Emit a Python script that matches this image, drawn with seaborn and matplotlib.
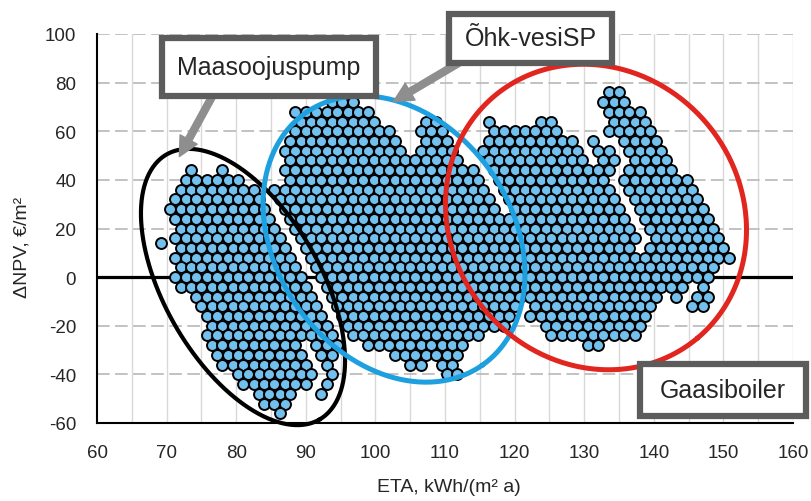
import numpy as np
import pandas as pd
import matplotlib
matplotlib.use("Agg")
import matplotlib.pyplot as plt
from matplotlib.patches import Rectangle, FancyArrowPatch
import seaborn as sns

sns.set_style("white")
plt.rcParams["font.family"] = ["Liberation Sans", "DejaVu Sans"]
plt.rcParams["axes.unicode_minus"] = False

# ---------------- data ----------------
x_ticks = [60, 70, 80, 90, 100, 110, 120, 130, 140, 150, 160]
y_ticks = [-60, -40, -20, 0, 20, 40, 60, 80, 100]
group_names = ["Maasoojuspump", "Õhk-vesiSP", "Gaasiboiler"]

# rows: (ΔNPV, [ETA values])
maasoojuspump_rows = [
    (44, [73.5, 78]),
    (40, [72.75, 74.25, 75.75, 77.25, 78.75, 80.25]),
    (36, [72, 73.5, 75, 76.5, 78, 79.5, 81, 82.5]),
    (32, [71.25, 72.75, 74.25, 75.75, 77.25, 78.75, 80.25, 81.75, 83.25]),
    (28, [70.5, 72, 73.5, 75, 76.5, 78, 79.5, 81, 82.5, 84]),
    (24, [71.25, 72.75, 74.25, 75.75, 77.25, 78.75, 80.25, 81.75, 83.25, 84.75]),
    (20, [72, 73.5, 75, 76.5, 78, 79.5, 81, 82.5, 84, 85.5]),
    (16, [71.25, 72.75, 74.25, 75.75, 77.25, 78.75, 80.25, 81.75, 83.25, 84.75, 86.25]),
    (14, [69.25]),
    (12, [72, 73.5, 75, 76.5, 78, 79.5, 81, 82.5, 84, 85.5, 87]),
    (8, [71.25, 72.75, 74.25, 75.75, 77.25, 78.75, 80.25, 81.75, 83.25, 84.75, 86.25, 87.75]),
    (4, [72, 73.5, 75, 76.5, 78, 79.5, 81, 82.5, 84, 85.5, 87, 88.5]),
    (0, [71.25, 72.75, 74.25, 75.75, 77.25, 78.75, 80.25, 81.75, 83.25, 84.75, 86.25, 87.75, 89.25]),
    (-4, [72, 73.5, 75, 76.5, 78, 79.5, 81, 82.5, 84, 85.5, 87, 88.5, 90]),
    (-8, [74.25, 75.75, 77.25, 78.75, 80.25, 81.75, 83.25, 84.75, 86.25, 87.75, 89.25, 90.75]),
    (-12, [75, 76.5, 78, 79.5, 81, 82.5, 84, 85.5, 87, 88.5, 90, 91.5]),
    (-16, [75.75, 77.25, 78.75, 80.25, 81.75, 83.25, 84.75, 86.25, 87.75, 89.25, 90.75, 92.25]),
    (-20, [76.5, 78, 79.5, 81, 82.5, 84, 85.5, 87, 88.5, 90, 91.5, 93]),
    (-24, [75.75, 77.25, 78.75, 80.25, 81.75, 83.25, 84.75, 86.25, 87.75, 89.25, 90.75, 92.25, 93.75]),
    (-28, [76.5, 78, 79.5, 81, 82.5, 84, 85.5, 87, 88.5, 91.5, 93, 94.5]),
    (-32, [77.25, 78.75, 80.25, 81.75, 83.25, 84.75, 86.25, 87.75, 89.25, 92.25, 93.75]),
    (-36, [78, 79.5, 81, 82.5, 84, 85.5, 87, 88.5, 90, 93]),
    (-40, [80.25, 81.75, 83.25, 84.75, 86.25, 87.75, 89.25, 90.75, 93.75]),
    (-44, [81, 82.5, 84, 85.5, 87, 88.5, 90, 93]),
    (-48, [83.25, 84.75, 86.25, 87.75, 92.25]),
    (-52, [84, 85.5, 87]),
    (-56, [86.25]),
]

ohk_vesi_rows = [
    (72, [93.75, 95.25, 96.75]),
    (68, [88.5, 90, 91.5, 93, 94.5, 96, 97.5, 99]),
    (64, [89.25, 90.75, 92.25, 93.75, 95.25, 96.75, 98.25, 99.75, 107.25, 108.75]),
    (60, [88.5, 90, 91.5, 93, 94.5, 96, 97.5, 99, 100.5, 102, 106.5, 108, 109.5]),
    (56, [87.75, 89.25, 90.75, 92.25, 93.75, 95.25, 96.75, 98.25, 99.75, 101.25, 102.75,
          107.25, 108.75, 110.25]),
    (52, [87, 88.5, 90, 91.5, 93, 94.5, 96, 97.5, 99, 100.5, 102, 103.5, 106.5, 108, 109.5, 111]),
    (48, [87.75, 89.25, 90.75, 92.25, 93.75, 95.25, 96.75, 98.25, 99.75, 101.25, 102.75, 104.25,
          105.75, 107.25, 108.75, 110.25, 111.75]),
    (44, [87, 88.5, 90, 91.5, 93, 94.5, 96, 97.5, 99, 100.5, 102, 103.5, 105, 106.5, 108, 109.5,
          111, 112.5, 114]),
    (40, [87.75, 89.25, 90.75, 92.25, 93.75, 95.25, 96.75, 98.25, 99.75, 101.25, 102.75, 104.25,
          105.75, 107.25, 108.75, 110.25, 111.75, 113.25, 114.75]),
    (36, [85.5, 87, 88.5, 90, 91.5, 93, 94.5, 96, 97.5, 99, 100.5, 102, 103.5, 105, 106.5, 108,
          109.5, 111, 112.5, 114, 115.5]),
    (32, [86.25, 87.75, 89.25, 90.75, 92.25, 93.75, 95.25, 96.75, 98.25, 99.75, 101.25, 102.75,
          104.25, 105.75, 107.25, 108.75, 110.25, 111.75, 113.25, 114.75, 116.25]),
    (28, [87, 88.5, 90, 91.5, 93, 94.5, 96, 97.5, 99, 100.5, 102, 103.5, 105, 106.5, 108, 109.5,
          111, 112.5, 114, 115.5, 117]),
    (24, [87.75, 89.25, 90.75, 92.25, 93.75, 95.25, 96.75, 98.25, 99.75, 101.25, 102.75, 104.25,
          105.75, 107.25, 108.75, 110.25, 111.75, 113.25, 114.75, 116.25, 117.75]),
    (20, [88.5, 90, 91.5, 93, 94.5, 96, 97.5, 99, 100.5, 102, 103.5, 105, 106.5, 108, 109.5, 111,
          112.5, 114, 115.5, 117, 118.5]),
    (16, [89.25, 90.75, 92.25, 93.75, 95.25, 96.75, 98.25, 99.75, 101.25, 102.75, 104.25, 105.75,
          107.25, 108.75, 110.25, 111.75, 113.25, 114.75, 116.25, 117.75, 119.25]),
    (12, [90, 91.5, 93, 94.5, 96, 97.5, 99, 100.5, 102, 103.5, 105, 106.5, 108, 109.5, 111, 112.5,
          114, 115.5, 117, 118.5, 120]),
    (8, [90.75, 92.25, 93.75, 95.25, 96.75, 98.25, 99.75, 101.25, 102.75, 104.25, 105.75, 107.25,
         108.75, 110.25, 111.75, 113.25, 114.75, 116.25, 117.75, 119.25, 120.75]),
    (4, [91.5, 93, 94.5, 96, 97.5, 99, 100.5, 102, 103.5, 105, 106.5, 108, 109.5, 111, 112.5, 114,
         115.5, 117, 118.5, 120]),
    (0, [92.25, 93.75, 95.25, 96.75, 98.25, 99.75, 101.25, 102.75, 104.25, 105.75, 107.25, 108.75,
         110.25, 111.75, 113.25, 114.75, 116.25, 117.75, 119.25, 120.75]),
    (-4, [93, 94.5, 96, 97.5, 99, 100.5, 102, 103.5, 105, 106.5, 108, 109.5, 111, 112.5, 114,
          115.5, 117, 118.5, 120]),
    (-8, [93.75, 95.25, 96.75, 98.25, 99.75, 101.25, 102.75, 104.25, 105.75, 107.25, 108.75,
          110.25, 111.75, 113.25, 114.75, 116.25, 117.75, 119.25, 120.75]),
    (-12, [94.5, 96, 97.5, 99, 100.5, 102, 103.5, 105, 106.5, 108, 109.5, 111, 112.5, 114, 115.5,
           117, 118.5, 120]),
    (-16, [95.25, 96.75, 98.25, 99.75, 101.25, 102.75, 104.25, 105.75, 107.25, 108.75, 110.25,
           111.75, 113.25, 114.75, 116.25, 117.75, 119.25]),
    (-20, [96, 97.5, 99, 100.5, 102, 103.5, 105, 106.5, 108, 109.5, 111, 112.5, 114, 115.5, 117,
           118.5]),
    (-24, [96.75, 98.25, 99.75, 101.25, 102.75, 104.25, 105.75, 107.25, 108.75, 110.25, 111.75,
           113.25, 114.75]),
    (-28, [99, 100.5, 102, 103.5, 105, 106.5, 108, 109.5, 111, 112.5]),
    (-32, [102.75, 104.25, 105.75, 107.25, 108.75, 110.25, 111.75]),
    (-36, [105, 106.5, 109.5, 111]),
    (-40, [110.25, 111.75]),
]

gaasiboiler_rows = [
    (76, [133.5, 135]),
    (72, [132.75, 134.25, 135.75]),
    (68, [133.5, 135, 136.5, 138]),
    (64, [116.25, 123.75, 125.25, 134.25, 135.75, 137.25, 138.75]),
    (60, [117, 118.5, 120, 121.5, 123, 124.5, 126, 133.5, 135, 136.5, 138, 139.5]),
    (56, [116.25, 117.75, 119.25, 120.75, 122.25, 123.75, 125.25, 126.75, 128.25, 131.25,
          135.75, 137.25, 138.75, 140.25]),
    (52, [115.5, 117, 118.5, 120, 121.5, 123, 124.5, 126, 127.5, 129, 132, 133.5,
          136.5, 138, 139.5, 141]),
    (48, [116.25, 117.75, 119.25, 120.75, 122.25, 123.75, 125.25, 126.75, 128.25, 129.75,
          132.75, 134.25, 137.25, 138.75, 140.25, 141.75]),
    (44, [117, 118.5, 120, 121.5, 123, 124.5, 126, 127.5, 129, 130.5, 132, 133.5,
          136.5, 138, 139.5, 141, 142.5]),
    (40, [117.75, 119.25, 120.75, 122.25, 123.75, 125.25, 126.75, 128.25, 129.75, 131.25, 132.75,
          135.75, 137.25, 138.75, 140.25, 141.75, 143.25, 144.75]),
    (36, [118.5, 120, 121.5, 123, 124.5, 126, 127.5, 129, 130.5, 132, 133.5,
          136.5, 138, 139.5, 141, 142.5, 144, 145.5]),
    (32, [119.25, 120.75, 122.25, 123.75, 125.25, 126.75, 128.25, 129.75, 131.25, 132.75, 134.25,
          137.25, 138.75, 140.25, 141.75, 143.25, 144.75, 146.25]),
    (28, [120, 121.5, 123, 124.5, 126, 127.5, 129, 130.5, 132, 133.5, 135,
          138, 139.5, 141, 142.5, 144, 145.5, 147]),
    (24, [119.25, 120.75, 122.25, 123.75, 125.25, 126.75, 128.25, 129.75, 131.25, 132.75, 134.25,
          135.75, 138.75, 140.25, 141.75, 143.25, 144.75, 146.25, 147.75]),
    (20, [120, 121.5, 123, 124.5, 126, 127.5, 129, 130.5, 132, 133.5, 135, 136.5,
          139.5, 141, 142.5, 144, 145.5, 147, 148.5]),
    (16, [120.75, 122.25, 123.75, 125.25, 126.75, 128.25, 129.75, 131.25, 132.75, 134.25, 135.75,
          137.25, 140.25, 141.75, 143.25, 144.75, 146.25, 147.75, 149.25]),
    (12, [121.5, 123, 124.5, 126, 127.5, 129, 130.5, 132, 133.5, 135, 136.5,
          139.5, 141, 142.5, 144, 145.5, 147, 148.5, 150]),
    (8, [122.25, 123.75, 125.25, 126.75, 128.25, 129.75, 131.25, 132.75, 134.25, 135.75, 137.25,
         138.75, 140.25, 141.75, 143.25, 144.75, 146.25, 147.75, 149.25, 150.75]),
    (4, [121.5, 123, 124.5, 126, 127.5, 129, 130.5, 132, 133.5, 135, 136.5, 138, 139.5, 141,
         142.5, 144, 145.5, 147, 148.5]),
    (0, [122.25, 123.75, 125.25, 126.75, 128.25, 129.75, 131.25, 132.75, 134.25, 135.75, 137.25,
         138.75, 140.25, 141.75, 143.25, 144.75, 146.25, 147.75]),
    (-4, [121.5, 123, 124.5, 126, 127.5, 129, 130.5, 132, 133.5, 135, 136.5, 138, 139.5, 141,
          142.5, 144, 147]),
    (-8, [122.25, 123.75, 125.25, 126.75, 128.25, 129.75, 131.25, 132.75, 134.25, 135.75, 137.25,
          138.75, 140.25, 143.25, 146.25, 147.75]),
    (-12, [123, 124.5, 126, 127.5, 129, 130.5, 132, 133.5, 135, 136.5, 138, 139.5, 145.5, 147]),
    (-16, [122.25, 123.75, 125.25, 126.75, 128.25, 129.75, 131.25, 132.75, 134.25, 135.75,
           137.25, 138.75]),
    (-20, [124.5, 126, 127.5, 129, 130.5, 132, 133.5, 135, 136.5, 138]),
    (-24, [125.25, 126.75, 128.25, 129.75, 131.25, 132.75, 134.25, 135.75, 137.25]),
    (-28, [130.5, 132]),
]

# ---------------- build table ----------------
records = []
for name, rows in zip(group_names, [maasoojuspump_rows, ohk_vesi_rows, gaasiboiler_rows]):
    for yv, xs in rows:
        for xv in xs:
            records.append({"ETA": xv, "dNPV": yv, "group": name})
df = pd.DataFrame(records)

# ---------------- figure ----------------
W, H = 811, 502
fig = plt.figure(figsize=(W / 100, H / 100), dpi=100)
ax = fig.add_axes([97 / W, 1 - 424 / H, 696 / W, 389 / H])
ax.set_xlim(60, 160)
ax.set_ylim(-60, 100)

for xv in range(65, 161, 5):
    ax.axvline(xv, color="#d9d9d9", lw=1.0, zorder=0)
for yv in y_ticks:
    if yv not in (0, -60):
        ax.axhline(yv, color="#bdbdbd", lw=1.3, ls=(0, (7, 3)), zorder=0.5)
ax.axhline(0, color="black", lw=2.3, zorder=1)

sns.scatterplot(data=df, x="ETA", y="dNPV", ax=ax, color="#72c0ee",
                edgecolor="black", linewidth=1.4, s=62, legend=False, zorder=2)


def px2data(px, py):
    return 60 + (px - 97) * 100 / 696, 100 - (py - 35) * 160 / 389


def ellipse(cx, cy, a, b, theta_deg, color, lw):
    t = np.linspace(0, 2 * np.pi, 400)
    th = np.deg2rad(theta_deg)
    ex = cx + a * np.cos(t) * np.cos(th) - b * np.sin(t) * np.sin(th)
    ey = cy + a * np.cos(t) * np.sin(th) + b * np.sin(t) * np.cos(th)
    dx, dy = px2data(ex, ey)
    ax.plot(dx, dy, color=color, lw=lw, zorder=3, clip_on=False, solid_capstyle="round")


ellipse(243, 288, 153, 78, 60, "black", 3.0)
ellipse(394, 240, 154, 118, 55, "#1d9fe0", 3.6)
ellipse(596, 218, 158, 145, 50, "#e0261f", 3.6)

ax.set_xticks(x_ticks)
ax.set_yticks(y_ticks)
ax.tick_params(direction="out", length=6, width=1.3, color="black", labelsize=13.5, pad=9)
for s in ["top", "right"]:
    ax.spines[s].set_visible(False)
for s in ["left", "bottom"]:
    ax.spines[s].set_color("black")
    ax.spines[s].set_linewidth(1.5)
ax.set_xlabel("")
ax.set_ylabel("")

fig.text(449 / W, 1 - 488 / H, "ETA, kWh/(m² a)", ha="center", va="center", fontsize=14)
fig.text(22 / W, 1 - 247 / H, "ΔNPV, €/m²", rotation=90, ha="center", va="center", fontsize=14)


def fpt(px, py):
    return (px / W, 1 - py / H)


def arrow(p0, p1):
    arr = FancyArrowPatch(fpt(*p0), fpt(*p1), transform=fig.transFigure,
                          arrowstyle="Simple, tail_width=0.35, head_width=1.0, head_length=1.0",
                          mutation_scale=14, color="#8e8e8e", zorder=4)
    fig.add_artist(arr)


def box(x0, y0, x1, y1, text):
    r = Rectangle(fpt(x0, y1), (x1 - x0) / W, (y1 - y0) / H, transform=fig.transFigure,
                  facecolor="white", edgecolor="#5c5c5c", lw=4.5, zorder=5)
    fig.add_artist(r)
    fig.text((x0 + x1) / 2 / W, 1 - (y0 + y1) / 2 / H, text, ha="center", va="center",
             fontsize=18, zorder=6)


arrow((213, 96), (178, 160))
arrow((462, 62), (391, 104))
box(162, 39, 376, 97, group_names[0])
box(449, 15, 612, 64, group_names[1])
box(640, 365, 806, 417, group_names[2])

fig.savefig("out.png", dpi=100)
